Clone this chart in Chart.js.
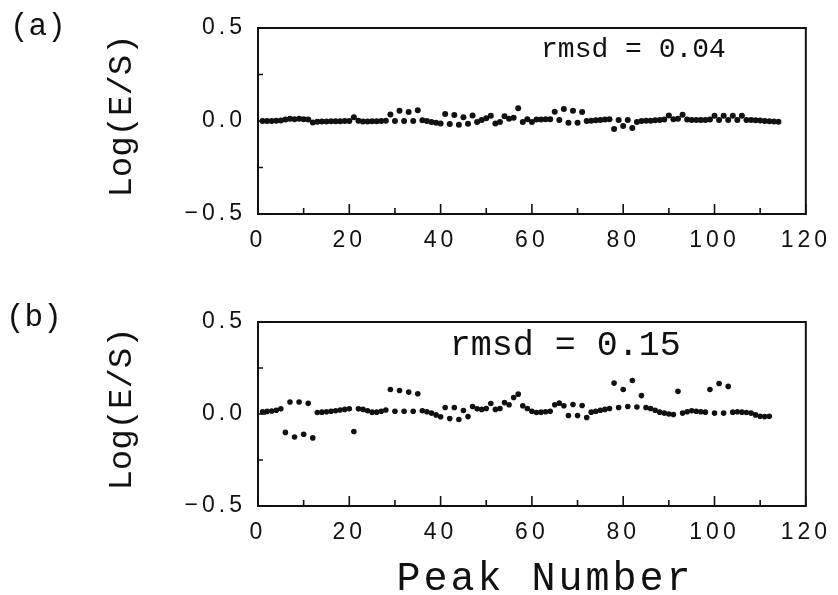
<!DOCTYPE html>
<html><head><meta charset="utf-8">
<script src="https://cdn.jsdelivr.net/npm/chart.js@4.4.0/dist/chart.umd.min.js"></script>
<style>
html,body{margin:0;padding:0;background:#fff;width:838px;height:595px;overflow:hidden;}
canvas{position:absolute;left:0;display:block;}
#ca{top:0;}
#cb{top:290px;}
</style></head><body>
<canvas id="ca" width="838" height="290"></canvas>
<canvas id="cb" width="838" height="305"></canvas>
<script>
// ---------- data ----------
const peaksA = [1,2,3,4,5,6,7,8,9,10,11,12,13,14,15,16,17,18,19,20,21,22,23,24,25,26,27,28,29,30,31,32,33,34,35,36,37,38,39,40,41,42,43,44,45,46,47,48,49,50,51,52,53,54,55,56,57,58,59,60,61,62,63,64,65,66,67,68,69,70,71,72,73,74,75,76,77,78,79,80,81,82,83,84,85,86,87,88,89,90,91,92,93,94,95,96,97,98,99,100,101,102,103,104,105,106,107,108,109,110,111,112,113,114];
const logESA = [
  0.000, 0.000, 0.000, 0.001, 0.003,
  0.008, 0.012, 0.010, 0.012, 0.010, 0.008,
  -0.008,
  -0.004, -0.003, -0.003, -0.002, -0.002, -0.001, 0.000, 0.000,
  0.020,
  0.002, -0.003, -0.003, -0.002, -0.002, 0.000, 0.002,
  0.035, 0.000, 0.055, 0.000, 0.048, 0.000, 0.058,
  0.004, 0.000, -0.006, -0.010, -0.013,
  0.037, -0.016, 0.032, -0.020, 0.020, -0.015, 0.030,
  -0.005, 0.005, 0.015, 0.028,
  -0.013, -0.005, 0.025, 0.012, 0.018, 0.068, -0.005, 0.010, -0.005,
  0.008, 0.008, 0.010, 0.010,
  0.050, 0.006, 0.064, -0.010, 0.055, -0.010, 0.048,
  0.000, 0.002, 0.004, 0.006, 0.008, 0.010,
  -0.043, 0.005, -0.027, 0.005, -0.038,
  -0.005, 0.000, 0.002, 0.002, 0.004, 0.006, 0.008,
  0.030, 0.010, 0.012, 0.033, 0.008, 0.005, 0.005, 0.005, 0.005, 0.008,
  0.028, 0.005, 0.028, 0.005, 0.028, 0.005, 0.028,
  0.005, 0.005, 0.004, 0.003, 0.000, -0.002, -0.003, -0.004
];
const peaksB = [1,2,3,4,5,6,7,8,9,10,11,12,13,14,15,16,17,18,19,20,21,22,23,24,25,26,27,28,29,30,31,32,33,34,35,36,37,38,39,40,41,42,43,44,45,46,47,48,49,50,51,52,53,54,55,56,57,58,59,60,61,62,63,64,65,66,67,68,69,70,71,72,73,74,75,76,77,78,79,80,81,82,83,84,85,86,87,88,89,90,91,92,93,94,95,96,97,98,99,100,101,102,103,104,105,106,107,108,109,110,111,112];
const logESB = [
  0.012, 0.014, 0.016, 0.020, 0.028,
  -0.100, 0.065, -0.125, 0.065, -0.110, 0.058, -0.130,
  0.008, 0.010, 0.012, 0.015, 0.018, 0.022, 0.025, 0.028,
  -0.095,
  0.028, 0.025, 0.018, 0.010, 0.010, 0.015, 0.022,
  0.133, 0.015, 0.128, 0.015, 0.119, 0.015, 0.110,
  0.018, 0.012, 0.005, -0.005, -0.015,
  0.035, -0.025, 0.035, -0.030, 0.019, -0.014, 0.041,
  0.028, 0.025, 0.030,
  0.057, 0.025, 0.030, 0.062, 0.050, 0.090, 0.108, 0.045,
  0.030, 0.015, 0.008, 0.010, 0.012, 0.015,
  0.050, 0.059, 0.045,
  -0.008, 0.052, -0.008, 0.046, -0.019,
  0.010, 0.015, 0.020, 0.025, 0.030,
  0.168, 0.035, 0.133, 0.041, 0.182, 0.038, 0.100,
  0.035, 0.030, 0.020, 0.010, 0.005, 0.000, -0.003,
  0.123,
  0.005, 0.012, 0.018, 0.015, 0.012, 0.010,
  0.133, 0.005, 0.166, 0.005, 0.150,
  0.010, 0.012, 0.010, 0.008, 0.005, -0.005, -0.012, -0.014, -0.012
];
const xTickLabels = ['0','20','40','60','80','100','120'];
const yTickLabels = ['\u22120.5','0.0','0.5'];
const xMinorTicks = [10,30,50,70,90,110];
const yMinorTicks = [-0.25,0.25];
const yTitle = 'Log(E/S)';
const xTitle = 'Peak Number';
const panelLabels = ['(a)','(b)'];
const rmsdTexts = ['rmsd = 0.04','rmsd = 0.15'];

// ---------- style ----------
const INK = '#111';
const TICK_FONT = {family:'"Liberation Sans", Arial, sans-serif', size:23};
const MONO = '"Liberation Mono", "Courier New", monospace';

function decoPlugin(panelLabel, labelPos, rmsd, rmsdAt, rmsdSize){
  return {
    id:'deco',
    beforeDraw(chart){
      for (const s of Object.values(chart.scales)) {
        if (s._patched) continue;
        s._patched = true;
        const dl = s.drawLabels.bind(s), dt = s.drawTitle.bind(s);
        s.drawLabels = function(a){ const c=this.ctx; c.save(); c.letterSpacing='4px'; dl(a); c.restore(); };
        s.drawTitle = function(a){
          const c=this.ctx; c.save();
          if (this.axis==='x') { c.letterSpacing='3px'; c.translate(13,4); } else { c.letterSpacing='0px'; c.translate(0,-5); }
          dt(a); c.restore();
        };
      }
    },
    afterDraw(chart){
      const {ctx, chartArea:ca, scales:{x,y}} = chart;
      ctx.save();
      ctx.strokeStyle = INK; ctx.lineWidth = 2;
      ctx.strokeRect(ca.left, ca.top, ca.right-ca.left, ca.bottom-ca.top);
      ctx.lineWidth = 1.6;
      ctx.beginPath();
      x.ticks.forEach(t=>{ const px = x.getPixelForValue(t.value); ctx.moveTo(px, ca.bottom); ctx.lineTo(px, ca.bottom-10); });
      xMinorTicks.forEach(v=>{ const px = x.getPixelForValue(v); ctx.moveTo(px, ca.bottom); ctx.lineTo(px, ca.bottom-6); });
      y.ticks.forEach(t=>{ const py = y.getPixelForValue(t.value); ctx.moveTo(ca.left, py); ctx.lineTo(ca.left+8, py); });
      yMinorTicks.forEach(v=>{ const py = y.getPixelForValue(v); ctx.moveTo(ca.left, py); ctx.lineTo(ca.left+5, py); });
      ctx.stroke();
      ctx.fillStyle = INK;
      ctx.textBaseline = 'middle'; ctx.textAlign = 'left';
      ctx.font = rmsdSize + 'px ' + MONO;
      ctx.fillText(rmsd, x.getPixelForValue(rmsdAt[0]), y.getPixelForValue(rmsdAt[1]));
      ctx.font = '31px ' + MONO;
      ctx.fillText(panelLabel, labelPos[0], labelPos[1]);
      ctx.restore();
    }
  };
}

function makeChart(id, xs, ys, cfg){
  const pts = xs.map((v,i)=>({x:v, y:ys[i]}));
  return new Chart(document.getElementById(id), {
    type:'scatter',
    data:{datasets:[{data:pts, pointRadius:cfg.r, pointHoverRadius:cfg.r, pointBackgroundColor:INK, pointBorderWidth:0, showLine:false}]},
    options:{
      responsive:false, animation:false, devicePixelRatio:1,
      layout:{padding:{top:cfg.top, right:25, left:0, bottom:0}},
      plugins:{legend:{display:false}, tooltip:{enabled:false}},
      scales:{
        x:{type:'linear', min:0, max:120,
           ticks:{stepSize:20, autoSkip:false, maxRotation:0, padding:13, color:INK, font:TICK_FONT,
                  callback:(v,i)=>xTickLabels[i]},
           grid:{display:false, drawTicks:false}, border:{display:false},
           title:{display:cfg.xTitle, text:xTitle, color:INK, font:{family:MONO, size:40, lineHeight:1}, padding:{top:0,bottom:0}},
           afterFit:(s)=>{ s.height = cfg.xh; }},
        y:{type:'linear', min:-0.5, max:0.5,
           ticks:{stepSize:0.5, autoSkip:false, padding:12, color:INK, font:TICK_FONT,
                  callback:(v,i)=>yTickLabels[i]},
           grid:{display:false, drawTicks:false}, border:{display:false},
           title:{display:true, text:yTitle, color:INK, font:{family:MONO, size:34, lineHeight:1.2}, padding:{top:101.6,bottom:0}},
           afterFit:(s)=>{ s.width = 258; }}
      }
    },
    plugins:[decoPlugin(cfg.label, cfg.labelPos, cfg.rmsd, cfg.rmsdAt, cfg.rmsdSize)]
  });
}

makeChart('ca', peaksA, logESA, {r:3.0, top:28, xh:76, xTitle:false, label:panelLabels[0], labelPos:[10,27], rmsd:rmsdTexts[0], rmsdAt:[62,0.383], rmsdSize:28});
makeChart('cb', peaksB, logESB, {r:2.8, top:32, xh:89, xTitle:true, label:panelLabels[1], labelPos:[6,28], rmsd:rmsdTexts[1], rmsdAt:[42,0.373], rmsdSize:35});
</script>
</body></html>
